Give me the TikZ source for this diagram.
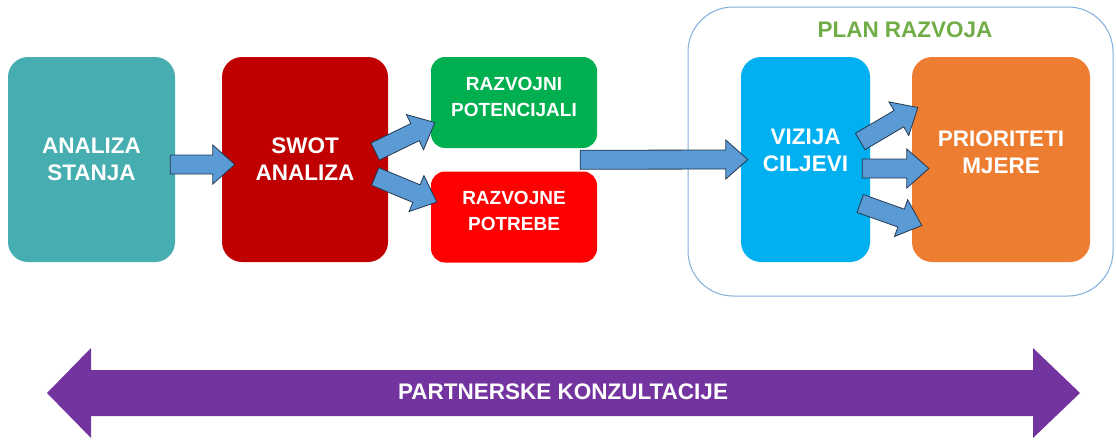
\documentclass[tikz,border=0pt]{standalone}
\usepackage{fontspec}
\setmainfont{Liberation Sans}
\usetikzlibrary{calc}

\definecolor{stanjecol}{HTML}{46ADB0}
\definecolor{swotcol}{HTML}{C00000}
\definecolor{potenccol}{HTML}{00B050}
\definecolor{potrebcol}{HTML}{FF0000}
\definecolor{vizijacol}{HTML}{00B0F0}
\definecolor{priorcol}{HTML}{ED7D31}
\definecolor{arrfill}{HTML}{5B9BD5}
\definecolor{arrline}{HTML}{23384F}
\definecolor{planline}{HTML}{7FAEDD}
\definecolor{plangreen}{HTML}{70AD47}
\definecolor{konzcol}{HTML}{7334A0}

% block arrow from #1 to #2
\newcommand{\blockarrow}[2]{%
  \coordinate (ba-h) at ($(#2)!22pt!(#1)$);
  \draw[blockarr] ($(#1)!9.5pt!90:(#2)$) -- ($(ba-h)!9.5pt!-90:(#1)$) -- ($(ba-h)!19.5pt!-90:(#1)$) -- (#2)
    -- ($(ba-h)!19.5pt!90:(#1)$) -- ($(ba-h)!9.5pt!90:(#1)$) -- ($(#1)!9.5pt!-90:(#2)$) -- cycle;
}

\begin{document}
\begin{tikzpicture}[x=1pt,y=-1pt,
    box/.style={rounded corners=20pt, text=white, align=center, inner sep=0pt,
      font=\bfseries\fontsize{22.5}{27}\selectfont},
    smallbox/.style={box, rounded corners=14pt, minimum width=166pt, minimum height=91pt,
      font=\bfseries\fontsize{19}{26}\selectfont},
    blockarr/.style={fill=arrfill, draw=arrline, line width=0.8pt}]
\useasboundingbox (0,0) rectangle (1116,439);

\node[box, fill=stanjecol, minimum width=167pt, minimum height=205pt] (stanje) at (91.5,159.5) {ANALIZA\\STANJA};
\node[box, fill=swotcol, minimum width=166pt, minimum height=205pt] (swot) at (305,159.5) {SWOT\\ANALIZA};
\node[smallbox, fill=potenccol, text depth=12pt] (potenc) at (514,102.5) {RAZVOJNI\\POTENCIJALI};
\node[smallbox, fill=potrebcol, text depth=12pt] (potreb) at (514,217) {RAZVOJNE\\POTREBE};

% plan razvoja
\node[draw=planline, line width=1pt, rounded corners=45pt, minimum width=425pt, minimum height=289pt] (plan) at (900.5,151.5) {};
\node[text=plangreen, font=\bfseries\fontsize{22.5}{27}\selectfont] (plantitle) at (905,30) {PLAN RAZVOJA};
\node[box, fill=vizijacol, minimum width=129pt, minimum height=205pt, text depth=19pt] (vizija) at (805.5,159.5) {VIZIJA\\CILJEVI};
\node[box, fill=priorcol, minimum width=178pt, minimum height=205pt, text depth=14pt] (prior) at (1001,159.5) {PRIORITETI\\MJERE};

% arrows
\coordinate (a1s) at ($(stanje.east)+(-5,5)$);
\coordinate (a1e) at ($(swot.west)+(13,5)$);
\coordinate (a2s) at ($(swot.east)+(-13,-8)$);
\coordinate (a2e) at ($(potenc.west)+(4,20)$);
\coordinate (a3s) at ($(swot.east)+(-13,17)$);
\coordinate (a3e) at ($(potreb.west)+(6,-15)$);
\coordinate (a4s) at ($(potenc.south east)!0.5!(potreb.north east)+(-17,0)$);
\coordinate (a4e) at ($(vizija.west)+(7,0)$);
\coordinate (a5s) at ($(vizija.east)+(-10,-18)$);
\coordinate (a5e) at ($(prior.west)+(6,-52)$);
\coordinate (a6s) at ($(vizija.east)+(-8,9)$);
\coordinate (a6e) at ($(prior.west)+(17,9)$);
\coordinate (a7s) at ($(vizija.east)+(-10,44)$);
\coordinate (a7e) at ($(prior.west)+(10,66)$);
\foreach \s/\e in {a1s/a1e, a2s/a2e, a3s/a3e, a4s/a4e, a5s/a5e, a6s/a6e, a7s/a7e}
  {\blockarrow{\s}{\e}}

% partnerske konzultacije
\fill[konzcol] (47,393) -- (91,348) -- (91,370) -- (1033,370) -- (1033,348) -- (1080,393)
  -- (1033,438) -- (1033,416) -- (91,416) -- (91,438) -- cycle;
\node[text=white, font=\bfseries\fontsize{22.5}{27}\selectfont] (konz) at (563,392) {PARTNERSKE KONZULTACIJE};

\end{tikzpicture}
\end{document}
